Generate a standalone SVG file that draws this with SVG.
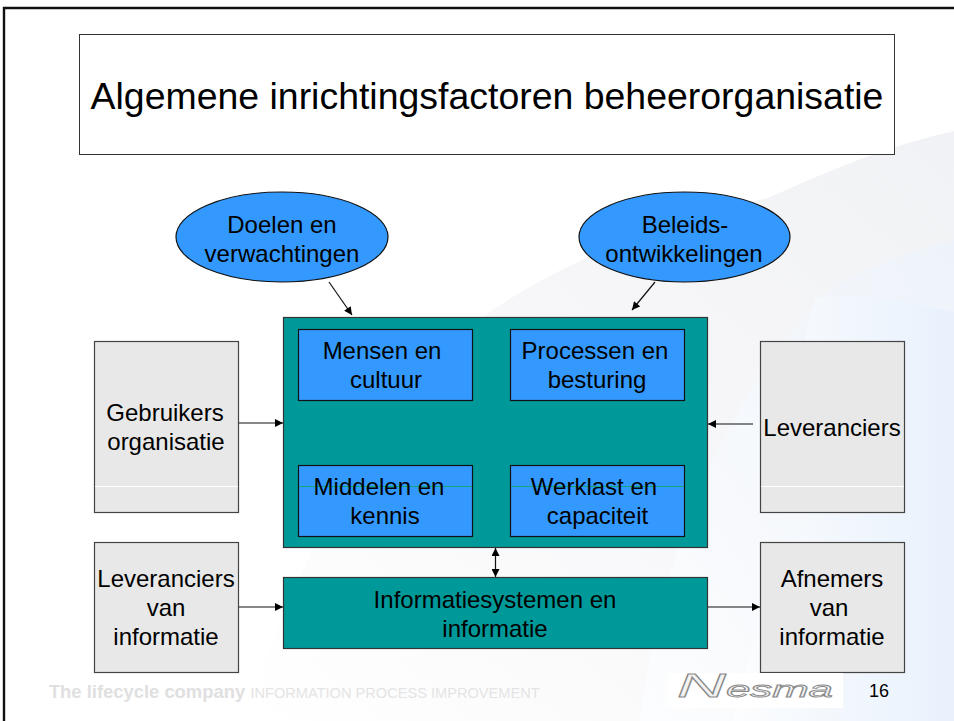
<svg xmlns="http://www.w3.org/2000/svg" width="954" height="721" viewBox="0 0 954 721">
<defs>
<linearGradient id="bg1" x1="0" y1="1" x2="1" y2="0"><stop offset="0" stop-color="#ffffff"/><stop offset="0.45" stop-color="#f8f8fa"/><stop offset="1" stop-color="#f1f2f5"/></linearGradient>
<linearGradient id="bg2" x1="0" y1="1" x2="1" y2="0"><stop offset="0" stop-color="#fcfdfe"/><stop offset="1" stop-color="#eef3fa"/></linearGradient>
<linearGradient id="bg3" x1="0" y1="0" x2="1" y2="0"><stop offset="0" stop-color="#fcfdfe"/><stop offset="1" stop-color="#e8f1fc"/></linearGradient>
<linearGradient id="fade" x1="0" y1="0" x2="1" y2="0"><stop offset="0" stop-color="#fff" stop-opacity="0"/><stop offset="0.06" stop-color="#fff"/><stop offset="1" stop-color="#fff"/></linearGradient>
<marker id="ah" viewBox="0 0 10 10" refX="10" refY="5" markerWidth="9" markerHeight="8" markerUnits="userSpaceOnUse" orient="auto-start-reverse"><path d="M0 0L10 5L0 10Z" fill="#000"/></marker>
</defs>
<style>
text{font-family:"Liberation Sans",Arial,sans-serif;fill:#000;text-anchor:middle}
.t{font-size:24px}
.teal{fill:#009999;stroke:#333;stroke-width:1.2}
.blue{fill:#3399ff;stroke:#111;stroke-width:1.2}
.grey{fill:#e8e8e8;stroke:#444;stroke-width:1.2}
.c{fill:none;stroke:#111;stroke-width:1.2}
.seam{stroke-width:1;fill:none}
</style>
<rect width="954" height="721" fill="#fff"/>
<g id="background">
<path d="M246 721C290 570 380 400 490 312C580 250 690 215 768 198C830 170 890 145 954 131V721Z" fill="url(#bg1)"/>
<path d="M640 721C660 560 720 400 830 290C870 265 915 250 954 240V721Z" fill="url(#bg2)"/>
<path d="M733 721C750 640 780 570 808 522C800 430 795 350 816 298C860 292 910 302 954 312V721Z" fill="url(#bg3)"/>
</g>
<path d="M4 721V8H954" fill="none" stroke="#111" stroke-width="2.4"/>
<g id="title"><rect x="79.500" y="34.500" width="815" height="120" fill="#fff" stroke="#333" stroke-width="1"/><text x="487" y="109" font-size="37.450">Algemene inrichtingsfactoren beheerorganisatie</text></g>
<g id="connectors">
<path class="c" d="M329 282L352 315" marker-end="url(#ah)"/>
<path class="c" d="M655 282L632 310" marker-end="url(#ah)"/>
<path class="c" d="M238 423H283" marker-end="url(#ah)"/>
<path class="c" d="M753 424H708" marker-end="url(#ah)"/>
<path class="c" d="M238 607H283" marker-end="url(#ah)"/>
<path class="c" d="M708 607H760" marker-end="url(#ah)"/>
<path class="c" d="M495.500 548V577" marker-start="url(#ah)" marker-end="url(#ah)"/>
</g>
<g id="doelen"><ellipse cx="282" cy="237" rx="106" ry="45" class="blue"/><text class="t" x="282" y="233">Doelen en</text><text class="t" x="282" y="262">verwachtingen</text></g>
<g id="beleid"><ellipse cx="684.500" cy="237" rx="105.500" ry="45" class="blue"/><text class="t" x="685" y="233">Beleids-</text><text class="t" x="684" y="262">ontwikkelingen</text></g>
<g id="centraal"><rect x="283.500" y="317.500" width="424" height="230" class="teal"/></g>
<g id="mensen"><rect x="298.500" y="329.500" width="174" height="71" class="blue"/><text class="t" x="382" y="359">Mensen en</text><text class="t" x="386" y="388">cultuur</text></g>
<g id="processen"><rect x="510.500" y="329.500" width="174" height="71" class="blue"/><text class="t" x="595" y="359">Processen en</text><text class="t" x="597" y="388">besturing</text></g>
<g id="middelen"><rect x="298.500" y="465.500" width="174" height="71" class="blue"/><path class="seam" stroke="#12a77f" d="M299 486.500H472"/><text class="t" x="379" y="495">Middelen en</text><text class="t" x="385" y="524">kennis</text></g>
<g id="werklast"><rect x="510.500" y="465.500" width="174" height="71" class="blue"/><path class="seam" stroke="#12a77f" d="M511 486.500H684"/><text class="t" x="594" y="495">Werklast en</text><text class="t" x="597.500" y="524">capaciteit</text></g>
<g id="gebruikers"><rect x="94.500" y="341.500" width="144" height="171" class="grey"/><path class="seam" stroke="#fff" d="M95 486.500H238"/><text class="t" x="165" y="421">Gebruikers</text><text class="t" x="166" y="450">organisatie</text></g>
<g id="leveranciers"><rect x="760.500" y="341.500" width="144" height="171" class="grey"/><path class="seam" stroke="#fff" d="M761 486.500H904"/><text class="t" x="832" y="436">Leveranciers</text></g>
<g id="levinfo"><rect x="94.500" y="542.500" width="144" height="130" class="grey"/><text class="t" x="166" y="587">Leveranciers</text><text class="t" x="166" y="616">van</text><text class="t" x="166" y="645">informatie</text></g>
<g id="afnemers"><rect x="760.500" y="542.500" width="144" height="130" class="grey"/><text class="t" x="832" y="587">Afnemers</text><text class="t" x="829" y="616">van</text><text class="t" x="832" y="645">informatie</text></g>
<g id="informatiesystemen"><rect x="283.500" y="577.500" width="424" height="71" class="teal"/><text class="t" x="495" y="608">Informatiesystemen en</text><text class="t" x="495" y="637">informatie</text></g>
<g id="footer">
<rect x="662" y="673" width="181" height="35" fill="url(#fade)"/>
<text x="147" y="698" font-size="18.400" font-weight="bold" style="fill:#e0e0e0">The lifecycle company</text>
<text x="395" y="698" font-size="14.600" style="fill:#e4e4e4">INFORMATION PROCESS IMPROVEMENT</text>
<text x="755" y="697" font-style="italic" textLength="156" lengthAdjust="spacingAndGlyphs" style="fill:#f2f2f2;stroke:#8a8a8a;stroke-width:0.8"><tspan font-size="34">N</tspan><tspan font-size="22">esma</tspan></text>
<text x="879" y="697" font-size="18">16</text>
</g>
</svg>
